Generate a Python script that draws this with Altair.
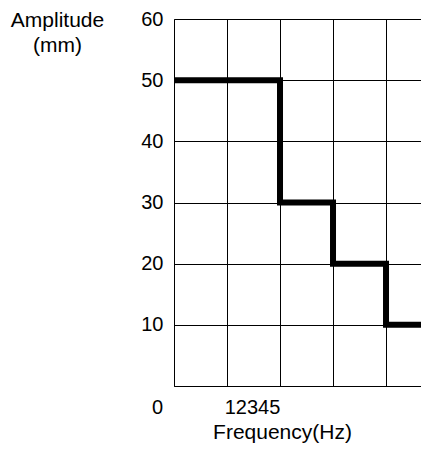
import altair as alt
import pandas as pd

# Data
freq = [0, 2, 3, 4, 5]
amp = [50, 30, 20, 10, 10]
x_ticks = [0, 1, 2, 3, 4, 5]
y_ticks = [0, 10, 20, 30, 40, 50, 60]
x_tick_labels = {0: "0", 1: "12345"}
x_title = "Frequency(Hz)"
y_title = ["Amplitude", "(mm)"]

df = pd.DataFrame({"freq": freq, "amp": amp})

FONT = "Liberation Sans"

label_expr_x = " : ".join(
    [f"datum.value == {k} ? '{v}'" for k, v in x_tick_labels.items()]
) + " : ''"

chart = alt.Chart(df).mark_line(
    interpolate="step-after", color="black", strokeWidth=6, clip=True
).encode(
    x=alt.X(
        "freq:Q",
        scale=alt.Scale(domain=[0, 4.66], nice=False, zero=False),
        axis=alt.Axis(
            values=x_ticks,
            title=x_title,
            labelExpr=label_expr_x,
            labelOffset={"condition": {"test": "datum.value == 0", "value": -17}, "value": 25},
            labelOverlap=False,
            labelFlush=False,
            labelPadding=11,
            ticks=False,
            grid=True,
            gridColor="black",
            gridOpacity=1,
            domainColor="black",
            labelFont=FONT,
            labelFontSize=20,
            labelColor="black",
            titleFont=FONT,
            titleFontSize=21,
            titleFontWeight="normal",
            titleColor="black",
            titleAnchor="start",
            titleAlign="center",
            titleX=108,
            titleY=46,
            titleBaseline="middle",
        ),
    ),
    y=alt.Y(
        "amp:Q",
        scale=alt.Scale(domain=[0, 60], nice=False),
        axis=alt.Axis(
            values=y_ticks,
            title=y_title,
            labelExpr="datum.value == 0 ? '' : datum.label",
            labelPadding=11,
            ticks=False,
            grid=True,
            gridColor="black",
            gridOpacity=1,
            domainColor="black",
            labelFont=FONT,
            labelFontSize=20,
            labelColor="black",
            titleFont=FONT,
            titleFontSize=21,
            titleFontWeight="normal",
            titleColor="black",
            titleAngle=0,
            titleAlign="center",
            titleBaseline="top",
            titleX=-117,
            titleY=-10,
            titleLineHeight=25,
        ),
    ),
).properties(
    width=247,
    height=367,
    autosize=alt.AutoSizeParams(type="none"),
    padding={"left": 166, "top": 11, "right": 0, "bottom": 58},
).configure_view(stroke=None)

chart.save("out.html", embed_options={"renderer": "svg", "actions": False})
